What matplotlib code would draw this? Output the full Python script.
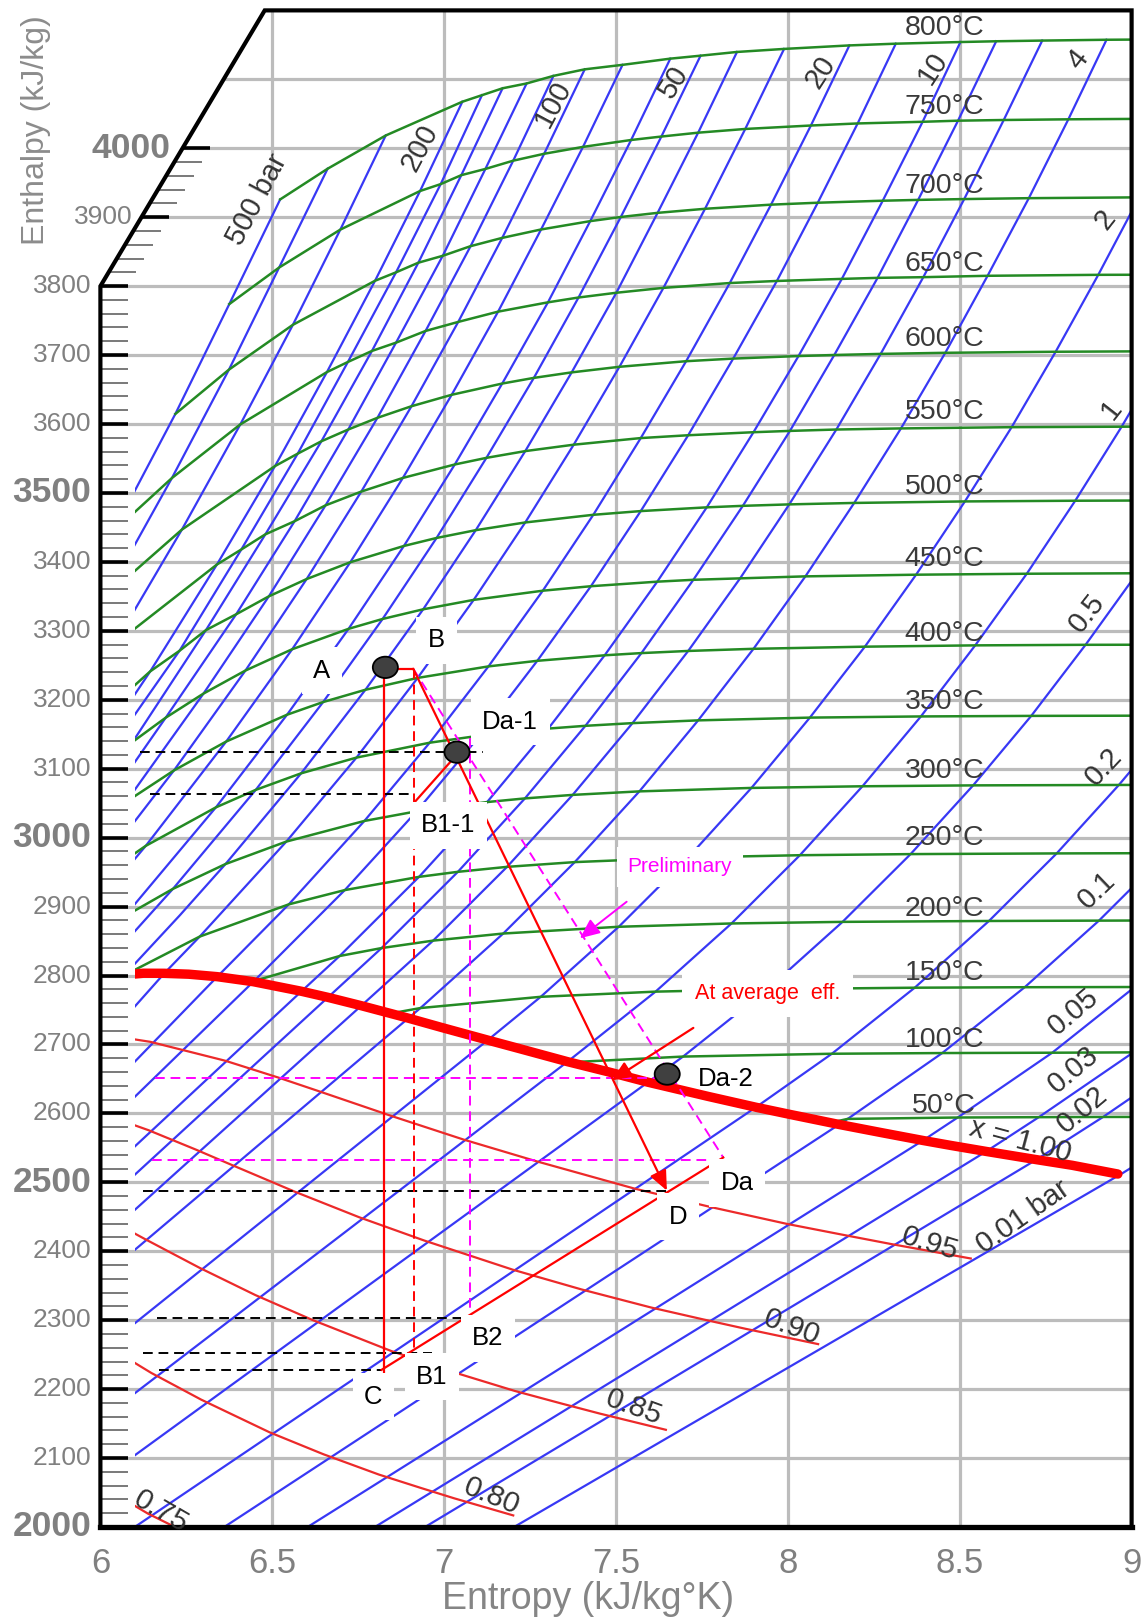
import matplotlib
matplotlib.use("Agg")
import matplotlib.pyplot as plt
from matplotlib.patches import Ellipse, Rectangle

plt.rcParams["font.family"] = ["Liberation Sans", "DejaVu Sans"]

# ---------------------------------------------------------------- data
# isobars (bar): superheated points, T in degC, s in kJ/kgK, h in kJ/kg
ISOBAR_P = [500, 400, 300, 200, 180, 160, 140, 120, 100, 80, 60, 50, 40, 30,
            20, 15, 10, 8, 6, 4, 2, 1, 0.5, 0.2, 0.1, 0.05, 0.03, 0.02, 0.01]
ISOBAR_T = {
    500: [600, 650, 700, 750, 800],
    400: [550, 600, 650, 700, 750, 800],
    300: [500, 550, 600, 650, 700, 750, 800],
    200: [450, 500, 550, 600, 650, 700, 750, 800],
    180: [400, 450, 500, 550, 600, 650, 700, 750, 800],
    160: [400, 450, 500, 550, 600, 650, 700, 750, 800],
    140: [400, 450, 500, 550, 600, 650, 700, 750, 800],
    120: [350, 400, 450, 500, 550, 600, 650, 700, 750, 800],
    100: [350, 400, 450, 500, 550, 600, 650, 700, 750, 800],
    80: [300, 350, 400, 450, 500, 550, 600, 650, 700, 750, 800],
    60: [300, 350, 400, 450, 500, 550, 600, 650, 700, 750, 800],
    50: [300, 350, 400, 450, 500, 550, 600, 650, 700, 750, 800],
    40: [275, 300, 350, 400, 450, 500, 550, 600, 650, 700, 750, 800],
    30: [250, 300, 350, 400, 450, 500, 550, 600, 650, 700, 750, 800],
    20: [250, 300, 350, 400, 450, 500, 550, 600, 650, 700, 750, 800],
    15: [250, 300, 350, 400, 450, 500, 550, 600, 650, 700, 750, 800],
    10: [200, 250, 300, 350, 400, 450, 500, 550, 600, 650, 700, 750, 800],
    8: [200, 250, 300, 350, 400, 450, 500, 550, 600, 650, 700, 750, 800],
    6: [200, 250, 300, 350, 400, 450, 500, 550, 600, 650, 700, 750, 800],
    4: [150, 200, 250, 300, 350, 400, 450, 500, 550, 600, 650, 700, 750, 800],
    2: [150, 200, 250, 300, 350, 400, 450, 500, 550, 600, 650, 700, 750, 800],
    1: [150, 200, 250, 300, 350, 400, 450, 500, 550, 600, 650],
    0.5: [100, 150, 200, 250, 300, 350, 400, 450, 500, 550],
    0.2: [100, 150, 200, 250, 300, 350, 400],
    0.1: [50, 100, 150, 200, 250, 300],
    0.05: [50, 100, 150, 200],
    0.03: [50, 100],
    0.02: [50, 100],
    0.01: [50],
}
ISOBAR_S = {
    500: [5.825, 6.037, 6.218, 6.375, 6.523],
    400: [5.786, 6.017, 6.208, 6.374, 6.520, 6.661],
    300: [5.796, 6.040, 6.237, 6.407, 6.560, 6.698, 6.830],
    200: [5.904, 6.145, 6.339, 6.508, 6.659, 6.799, 6.930, 7.053],
    180: [5.690, 5.990, 6.230, 6.410, 6.574, 6.720, 6.860, 6.990, 7.110],
    160: [5.817, 6.094, 6.307, 6.480, 6.643, 6.790, 6.925, 7.050, 7.170],
    140: [5.950, 6.190, 6.395, 6.565, 6.721, 6.860, 6.996, 7.120, 7.240],
    120: [5.750, 6.075, 6.300, 6.490, 6.655, 6.806, 6.946, 7.077, 7.201, 7.318],
    100: [5.946, 6.214, 6.422, 6.600, 6.759, 6.905, 7.041, 7.169, 7.291, 7.409],
    80: [5.794, 6.132, 6.366, 6.558, 6.727, 6.880, 7.022, 7.157, 7.282, 7.404, 7.519],
    60: [6.070, 6.336, 6.543, 6.722, 6.883, 7.031, 7.169, 7.302, 7.425, 7.544, 7.658],
    50: [6.211, 6.452, 6.648, 6.821, 6.978, 7.123, 7.261, 7.391, 7.514, 7.632, 7.746],
    40: [6.231, 6.364, 6.584, 6.771, 6.939, 7.092, 7.236, 7.371, 7.501, 7.621, 7.739, 7.852],
    30: [6.289, 6.541, 6.745, 6.923, 7.086, 7.236, 7.377, 7.510, 7.638, 7.759, 7.876, 7.989],
    20: [6.548, 6.768, 6.958, 7.129, 7.287, 7.434, 7.572, 7.704, 7.831, 7.951, 8.067, 8.179],
    15: [6.711, 6.920, 7.104, 7.271, 7.427, 7.572, 7.710, 7.841, 7.968, 8.087, 8.203, 8.314],
    10: [6.696, 6.927, 7.125, 7.303, 7.467, 7.620, 7.764, 7.900, 8.031, 8.157, 8.276, 8.392, 8.502],
    8: [6.818, 7.040, 7.235, 7.411, 7.574, 7.725, 7.869, 8.006, 8.135, 8.261, 8.379, 8.495, 8.606],
    6: [6.968, 7.183, 7.374, 7.548, 7.710, 7.861, 8.004, 8.141, 8.270, 8.394, 8.513, 8.628, 8.740],
    4: [6.931, 7.172, 7.380, 7.568, 7.739, 7.900, 8.051, 8.193, 8.329, 8.458, 8.581, 8.701, 8.816, 8.927],
    2: [7.281, 7.508, 7.710, 7.894, 8.064, 8.224, 8.373, 8.515, 8.651, 8.779, 8.903, 9.022, 9.137, 9.248],
    1: [7.615, 7.836, 8.035, 8.217, 8.387, 8.545, 8.695, 8.836, 8.971, 9.100, 9.223],
    0.5: [7.695, 7.941, 8.159, 8.357, 8.539, 8.708, 8.866, 9.016, 9.158, 9.290],
    0.2: [8.128, 8.369, 8.585, 8.782, 8.963, 9.132, 9.290],
    0.1: [8.174, 8.449, 8.689, 8.905, 9.102, 9.283],
    0.05: [8.494, 8.769, 9.009, 9.225],
    0.03: [8.730, 9.005],
    0.02: [8.917, 9.192],
    0.01: [9.237],
}
ISOBAR_H = {
    500: [3252.6, 3443.5, 3614.6, 3774.0, 3925.8],
    400: [3154.4, 3350.4, 3521.6, 3678.9, 3827.0, 3970.3],
    300: [3084.8, 3279.7, 3446.8, 3599.4, 3743.9, 3882.0, 4018.5],
    200: [3061.7, 3241.2, 3396.2, 3539.0, 3675.3, 3807.8, 3938.0, 4067.5],
    180: [2884, 3100, 3271, 3418, 3557, 3690, 3820, 3948, 4077],
    160: [2947, 3139, 3301, 3440, 3575, 3706, 3834, 3961, 4087],
    140: [3002, 3174, 3324, 3459, 3592, 3718, 3844, 3970, 4094],
    120: [2848, 3052, 3209, 3350, 3482, 3609, 3735, 3858, 3982, 4105],
    100: [2924.0, 3097.5, 3242.4, 3375.1, 3502.0, 3625.8, 3748.1, 3870.0, 3992.0, 4114.5],
    80: [2786.5, 2988.1, 3139.4, 3273.3, 3399.5, 3521.8, 3642.4, 3763.0, 3882.2, 4002.0, 4121.0],
    60: [2885.6, 3043.9, 3178.3, 3302.9, 3423.1, 3541.3, 3658.7, 3776.5, 3894.3, 4012.0, 4130.0],
    50: [2925.7, 3069.3, 3196.7, 3317.2, 3434.7, 3550.9, 3666.9, 3783.5, 3900.3, 4017.0, 4134.3],
    40: [2887.3, 2961.7, 3093.3, 3214.5, 3331.2, 3446.0, 3560.7, 3674.9, 3790.4, 3906.3, 4022.6, 4139.7],
    30: [2856.5, 2994.3, 3116.1, 3231.7, 3344.9, 3457.2, 3570.0, 3683.0, 3797.5, 3912.2, 4028.0, 4144.1],
    20: [2903.2, 3024.2, 3137.7, 3248.4, 3358.2, 3468.3, 3579.6, 3691.1, 3804.5, 3918.2, 4033.0, 4149.2],
    15: [2923.9, 3038.2, 3148.0, 3256.5, 3364.7, 3473.7, 3583.7, 3694.9, 3807.5, 3921.0, 4036.0, 4151.7],
    10: [2828.3, 2943.1, 3051.6, 3158.2, 3264.5, 3371.3, 3479.1, 3588.1, 3698.6, 3810.5, 3923.9, 4038.4, 4154.1],
    8: [2839.8, 2950.4, 3056.9, 3162.2, 3267.7, 3374.0, 3481.3, 3590.0, 3700.1, 3812.0, 3925.1, 4040.0, 4155.2],
    6: [2850.6, 2957.6, 3062.0, 3166.1, 3270.8, 3376.1, 3483.4, 3592.0, 3701.7, 3813.0, 3926.3, 4041.0, 4156.2],
    4: [2752.8, 2860.9, 2964.5, 3067.1, 3170.1, 3273.9, 3379.0, 3485.5, 3593.6, 3703.3, 3815.0, 3927.6, 4042.0, 4157.4],
    2: [2769.1, 2870.7, 2971.2, 3072.1, 3174.1, 3277.0, 3381.4, 3487.7, 3595.4, 3704.8, 3816.4, 3928.8, 4043.0, 4158.4],
    1: [2776.6, 2875.5, 2974.5, 3074.5, 3175.8, 3278.9, 3382.8, 3488.7, 3596.1, 3705.6, 3816.7],
    0.5: [2682.4, 2780.2, 2877.8, 2976.1, 3075.8, 3176.6, 3279.7, 3383.5, 3489.2, 3596.5],
    0.2: [2686.5, 2782.3, 2879.1, 2977.1, 3076.4, 3177.0, 3280.0],
    0.1: [2592.0, 2687.5, 2783.0, 2879.6, 2977.5, 3076.7],
    0.05: [2594.0, 2688.0, 2783.3, 2880.0],
    0.03: [2594.5, 2688.5],
    0.02: [2594.8, 2688.7],
    0.01: [2595.0],
}
# saturated-vapour point of each isobar
SAT_S = {80: 5.745, 60: 5.890, 50: 5.974, 40: 6.070, 30: 6.186, 20: 6.340, 15: 6.445,
         10: 6.585, 8: 6.662, 6: 6.759, 4: 6.896, 2: 7.127, 1: 7.359, 0.5: 7.593,
         0.2: 7.907, 0.1: 8.149, 0.05: 8.393, 0.03: 8.577, 0.02: 8.723, 0.01: 8.975}
SAT_H = {80: 2758.7, 60: 2784.6, 50: 2794.2, 40: 2800.8, 30: 2803.2, 20: 2798.3, 15: 2791.0,
         10: 2777.1, 8: 2768.3, 6: 2756.2, 4: 2738.1, 2: 2706.3, 1: 2675.0, 0.5: 2645.2,
         0.2: 2608.9, 0.1: 2583.9, 0.05: 2560.7, 0.03: 2544.8, 0.02: 2532.9, 0.01: 2513.7}
# enthalpy of each wet isobar at the left edge s = 6.1
WET_H = {30: 2755.0, 20: 2675.0, 15: 2624.0, 10: 2552.0, 8: 2511.0, 6: 2460.0,
         4: 2402.0, 2: 2295.5, 1: 2194.0, 0.5: 2104.0, 0.2: 2000.0, 0.1: 1915.0,
         0.05: 1842.5, 0.03: 1786.0, 0.02: 1747.0, 0.01: 1680.0}

# isotherms (degC) and where they leave the saturation line
TEMPS = [50, 100, 150, 200, 250, 300, 350, 400, 450, 500, 550, 600, 650, 700, 750, 800]
SAT_T_S = {50: 8.120, 100: 7.360, 150: 6.845, 200: 6.440, 250: 6.072, 300: 5.704}
SAT_T_H = {50: 2586.0, 100: 2674.0, 150: 2745.0, 200: 2791.0, 250: 2801.0, 300: 2749.0}

# saturation line x = 1.00
SATLINE_S = [6.070, 6.125, 6.186, 6.257, 6.340, 6.445, 6.585, 6.662, 6.759, 6.896, 6.992,
             7.127, 7.223, 7.359, 7.479, 7.593, 7.768, 7.907, 8.008, 8.149, 8.275, 8.393,
             8.473, 8.577, 8.723, 8.827, 8.960]
SATLINE_H = [2800.8, 2803.3, 2803.2, 2801.9, 2798.3, 2791.0, 2777.1, 2768.3, 2756.2, 2738.1,
             2724.7, 2706.3, 2693.4, 2675.0, 2660.1, 2645.2, 2624.6, 2608.9, 2598.3, 2583.9,
             2571.8, 2560.7, 2553.6, 2544.8, 2532.9, 2524.7, 2512.0]

# constant-quality lines
QUALITY_S = {
    0.95: [5.906, 6.010, 6.145, 6.363, 6.518, 6.640, 6.847, 7.056, 7.268, 7.553, 7.774, 7.998, 8.165, 8.300, 8.532],
    0.90: [5.950, 6.140, 6.277, 6.384, 6.567, 6.753, 6.943, 7.200, 7.399, 7.602, 7.754, 7.877, 8.088],
    0.85: [6.035, 6.128, 6.288, 6.451, 6.618, 6.846, 7.024, 7.206, 7.343, 7.453, 7.645],
    0.80: [6.008, 6.148, 6.293, 6.492, 6.649, 6.810, 6.932, 7.030, 7.201],
    0.75: [5.845, 5.968, 6.138, 6.274],
}
QUALITY_H = {
    0.95: [2715.2, 2714.3, 2703.8, 2676.4, 2651.9, 2631.4, 2596.2, 2562.1, 2530.6, 2491.0, 2464.3, 2439.6, 2423.4, 2410.5, 2389.5],
    0.90: [2609.3, 2575.6, 2547.6, 2524.8, 2486.1, 2449.3, 2415.4, 2373.2, 2344.7, 2318.4, 2301.1, 2287.5, 2265.3],
    0.85: [2443.3, 2418.1, 2376.1, 2336.4, 2300.1, 2255.3, 2225.1, 2197.3, 2178.9, 2164.5, 2141.0],
    0.80: [2266.0, 2223.5, 2184.8, 2137.4, 2105.5, 2076.1, 2056.7, 2041.5, 2016.8],
    0.75: [2110.6, 2069.6, 2019.5, 1985.9],
}

TEMP_LABELS = ["800", "750", "700", "650", "600", "550", "500", "450", "400",
               "350", "300", "250", "200", "150", "100", "50"]
TEMP_LABEL_H = [4174, 4060, 3945, 3832, 3724, 3617, 3509, 3404, 3296,
                3197, 3096, 2999, 2896, 2804, 2706, 2611]

PRESSURE_LABELS = ["500 bar", "200", "100", "50", "20", "10", "4", "2", "1", "0.5",
                   "0.2", "0.1", "0.05", "0.03", "0.02", "0.01 bar"]
PRESSURE_LABEL_S = [6.455, 6.93, 7.318, 7.667, 8.094, 8.423, 8.845, 8.923, 8.942, 8.87,
                    8.918, 8.90, 8.832, 8.832, 8.856, 8.684]
PRESSURE_LABEL_H = [3925, 4000, 4065, 4096, 4111, 4116, 4128, 3896, 3620, 3325,
                    3103, 2923, 2747, 2663, 2605, 2450]
PRESSURE_LABEL_ROT = [62, 62, 62, 58, 57, 57, 52, 52, 52, 52, 47, 44, 40, 40, 40, 35]

QUALITY_LABELS = ["0.95", "0.90", "0.85", "0.80", "0.75"]
QUALITY_LABEL_S = [8.413, 8.012, 7.551, 7.139, 6.175]
QUALITY_LABEL_H = [2411, 2289, 2173, 2045, 2022]
QUALITY_LABEL_ROT = [-17, -20, -20, -22, -30]

# turbine expansion sketch
STATE_NAMES = ["A", "B", "Da-1", "B1-1", "Da", "D", "B2", "B1", "C"]
STATE_NAME_S = [6.644, 6.978, 7.192, 7.012, 7.852, 7.681, 7.127, 6.965, 6.794]
STATE_NAME_H = [3242, 3286, 3168, 3018, 2499, 2450, 2274, 2218, 2189]
MARKER_S = [6.829, 7.0375, 7.649]
MARKER_H = [3247, 3124, 2657]
BLACK_DASH_H = [3124, 3063, 2488, 2303, 2252, 2228]
BLACK_DASH_S0 = [6.115, 6.144, 6.125, 6.165, 6.124, 6.170]
BLACK_DASH_S1 = [7.113, 6.910, 7.648, 7.049, 6.966, 6.815]
MAGENTA_DASH_H = [2651, 2533]
MAGENTA_DASH_S0 = [6.159, 6.149]
MAGENTA_DASH_S1 = [7.620, 7.812]

# ---------------------------------------------------------------- figure
fig = plt.figure(figsize=(11.45, 16.23), dpi=100)
ax = fig.add_axes([0.08769, 0.05915, 0.90061, 0.93445])
ax.set_xlim(6, 9)
ax.set_ylim(2000, 4200)
ax.axis("off")

clip = Rectangle((6.1, 2000), 2.9, 2200, transform=ax.transData)


def edge_s(h):
    # left frame is vertical up to 3800, then slants to the top border
    return 6.0 if h <= 3800 else 6.0 + (h - 3800) / 400 * 0.478


GRID = "#bcbcbc"
for s in [6.5, 7, 7.5, 8, 8.5]:
    ax.plot([s, s], [2000, 4200], color=GRID, lw=2.3, zorder=1)
for h in range(2100, 4200, 100):
    ax.plot([edge_s(h), 9], [h, h], color=GRID, lw=2.3, zorder=1)

# y ticks
for h in range(2000, 4001, 20):
    major = h % 100 == 0
    x0 = edge_s(h)
    ax.plot([x0, x0 + 0.08], [h, h], color="black" if major else "#555555",
            lw=2.6 if major else 1.1, solid_capstyle="butt", zorder=2, clip_on=False)
for h in range(2000, 4001, 100):
    big = h % 500 == 0
    gap = 0.035 if h == 4000 else 0.026
    ax.text(edge_s(h) - gap, h, str(h), ha="right", va="center",
            fontsize=25.5 if big else 19, fontweight="bold" if big else "normal",
            color="#808080", clip_on=False)

for s, lab in zip([6, 6.5, 7, 7.5, 8, 8.5, 9], ["6", "6.5", "7", "7.5", "8", "8.5", "9"]):
    ax.text(s, 1947, lab, ha="center", va="center", fontsize=25, color="#808080")
ax.text(7.42, 1895, "Entropy (kJ/kg°K)", ha="center", va="center", fontsize=27, color="#858585")
ax.text(5.813, 4027, "Enthalpy (kJ/kg)", ha="center", va="center", rotation=90,
        fontsize=23, color="#8c8c8c")

# isobars
for p in ISOBAR_P:
    ss, hh = [], []
    if p in WET_H:
        ss.append(6.1); hh.append(WET_H[p])
    if p in SAT_S:
        ss.append(SAT_S[p]); hh.append(SAT_H[p])
    ss += ISOBAR_S[p]; hh += ISOBAR_H[p]
    ln, = ax.plot(ss, hh, color="#3838f5", lw=1.6, zorder=3)
    ln.set_clip_path(clip)

# isotherms
for t in TEMPS:
    pts = []
    if t in SAT_T_S:
        pts.append((SAT_T_S[t], SAT_T_H[t]))
    for p in ISOBAR_P:
        if t in ISOBAR_T[p]:
            i = ISOBAR_T[p].index(t)
            pts.append((ISOBAR_S[p][i], ISOBAR_H[p][i]))
    pts.sort()
    ln, = ax.plot([a for a, b in pts], [b for a, b in pts], color="#248a24", lw=1.8, zorder=3.2)
    ln.set_clip_path(clip)

# quality lines and saturation line
for x in QUALITY_S:
    ln, = ax.plot(QUALITY_S[x], QUALITY_H[x], color="#ec2a2a", lw=1.6, zorder=3.4)
    ln.set_clip_path(clip)
ln, = ax.plot(SATLINE_S, SATLINE_H, color="#ff0000", lw=6.8, solid_capstyle="round", zorder=3.6)
ln.set_clip_path(clip)

# frame
ax.plot([6, 9], [2000, 2000], color="black", lw=3.8, solid_capstyle="projecting", zorder=4, clip_on=False)
ax.plot([6, 6, 6.478, 9, 9], [2000, 3800, 4200, 4200, 2000], color="black", lw=3.0,
        solid_joinstyle="miter", zorder=4, clip_on=False)

# chart labels
for lab, h in zip(TEMP_LABELS, TEMP_LABEL_H):
    ax.text(8.455, h, lab + "°C", ha="center", va="center", fontsize=20.5, color="#3a3a3a", zorder=5)
for lab, s, h, r in zip(PRESSURE_LABELS, PRESSURE_LABEL_S, PRESSURE_LABEL_H, PRESSURE_LABEL_ROT):
    ax.text(s, h, lab, ha="center", va="center", rotation=r, fontsize=21, color="#333333", zorder=5)
for lab, s, h, r in zip(QUALITY_LABELS, QUALITY_LABEL_S, QUALITY_LABEL_H, QUALITY_LABEL_ROT):
    ax.text(s, h, lab, ha="center", va="center", rotation=r, fontsize=21.5, color="#333333", zorder=5)
ax.text(8.675, 2560, "x = 1.00", ha="center", va="center", rotation=-15, fontsize=21,
        color="#333333", zorder=5)

# expansion sketch
DASH = dict(lw=1.4, dashes=(5, 3), zorder=6)
for h, s0, s1 in zip(BLACK_DASH_H, BLACK_DASH_S0, BLACK_DASH_S1):
    ax.plot([s0, s1], [h, h], color="black", **DASH)
for h, s0, s1 in zip(MAGENTA_DASH_H, MAGENTA_DASH_S0, MAGENTA_DASH_S1):
    ax.plot([s0, s1], [h, h], color="#ff00ff", **DASH)
ax.plot([7.075, 7.075], [3145, 2310], color="#ff00ff", **DASH)
ax.plot([6.910, 7.812], [3245, 2536], color="#ff00ff", **DASH)
ax.plot([6.912, 6.912], [3245, 2254], color="#ff0000", **DASH)

RED = dict(color="#ff0000", lw=1.6, zorder=6.5)
ax.plot([6.829, 6.910], [3245, 3245], **RED)
ax.plot([6.826, 6.826], [3245, 2218], **RED)
ax.plot([6.915, 7.022], [3052, 3112], **RED)
ax.plot([6.818, 7.812], [2228, 2536], **RED)
HEAD = "-|>,head_length=0.5,head_width=0.22"
ax.annotate("", xy=(7.648, 2488), xytext=(6.910, 3245),
            arrowprops=dict(arrowstyle=HEAD, color="#ff0000", lw=1.6, mutation_scale=24,
                            shrinkA=0, shrinkB=0), zorder=6.5)
ax.annotate("", xy=(7.488, 2648), xytext=(7.725, 2724),
            arrowprops=dict(arrowstyle=HEAD, color="#ff0000", lw=1.6, mutation_scale=24,
                            shrinkA=0, shrinkB=0), zorder=6.5)
ax.annotate("", xy=(7.395, 2854), xytext=(7.531, 2907),
            arrowprops=dict(arrowstyle=HEAD, color="#ff00ff", lw=1.4, mutation_scale=24,
                            shrinkA=0, shrinkB=0), zorder=6.5)

BOX = dict(boxstyle="square,pad=0.45", facecolor="white", edgecolor="none")
for lab, s, h in zip(STATE_NAMES, STATE_NAME_S, STATE_NAME_H):
    ax.text(s, h, lab, ha="center", va="center", fontsize=18.5, color="black", bbox=BOX, zorder=7)
ax.text(7.818, 2650, "Da-2", ha="center", va="center", fontsize=18.5, color="black", zorder=7)
ax.text(7.686, 2958, "Preliminary", ha="center", va="center", fontsize=15, color="#ff00ff",
        bbox=dict(boxstyle="square,pad=0.5", facecolor="white", edgecolor="none"), zorder=7)
ax.text(7.94, 2774, "At average  eff.", ha="center", va="center", fontsize=15.5, color="#ff0000",
        bbox=dict(boxstyle="square,pad=0.6", facecolor="white", edgecolor="none"), zorder=7)

for s, h in zip(MARKER_S, MARKER_H):
    ax.add_patch(Ellipse((s, h), 0.073, 31, facecolor="#404040", edgecolor="black",
                         lw=1.3, zorder=8))

fig.savefig("out.png", dpi=100)
